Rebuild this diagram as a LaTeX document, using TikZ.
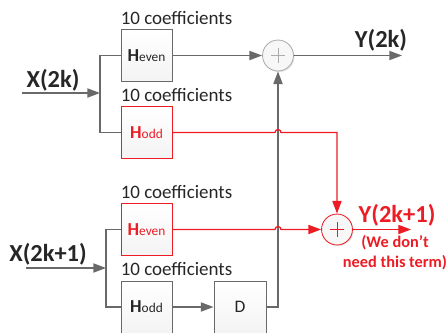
\documentclass[tikz,border=0pt]{standalone}
\usepackage{fontspec}
\setmainfont{Carlito}
\usetikzlibrary{positioning, calc, arrows.meta, shadows}
\definecolor{wiregray}{RGB}{105,105,105}
\definecolor{hotred}{RGB}{237,28,36}
\newcommand{\filtlabel}[1]{{\fontsize{13}{15}\selectfont\bfseries H}{\fontsize{9.5}{11}\selectfont #1}}
\tikzset{
    filt/.style={draw=wiregray, line width=0.7pt, top color=white, bottom color=gray!9,
        minimum width=1.275cm, minimum height=1.3cm, inner sep=0pt, text=black!85},
    filtred/.style={filt, draw=hotred, text=hotred},
    sumnode/.style={circle, draw=#1, line width=0.6pt, fill=gray!6, minimum size=22pt, inner sep=0pt,
        drop shadow={shadow xshift=0.8pt, shadow yshift=-0.8pt, opacity=0.2},
        path picture={\draw[#1, line width=0.5pt]
            (path picture bounding box.center) ++(-5pt,0) -- ++(10pt,0)
            (path picture bounding box.center) ++(0,-5pt) -- ++(0,10pt);}},
    wire/.style={draw=wiregray, line width=1pt},
    redwire/.style={draw=hotred, line width=0.9pt},
    coef/.style={inner sep=0pt, font=\fontsize{13.5}{15}\selectfont, text=black!85},
    bigbold/.style={inner sep=0pt, font=\fontsize{17.4}{20}\selectfont\bfseries, text=black!85},
    note/.style={inner sep=0pt, align=center, font=\fontsize{11.6}{14.2}\selectfont\bfseries, text=hotred}
}

\begin{document}
\begin{tikzpicture}[x=0.025cm, y=-0.025cm, >={Triangle[length=9pt,width=6.5pt]}]
        \useasboundingbox (0,0) rectangle (448,332);

        % ==========================================
        % UPPER PART: input X(2k)
        % ==========================================
        % 1. Filters and sum
        \node[filt] (heven1) at (146.5,55.5) {\filtlabel{even}};
        \node[filtred] (hodd1) at (146.5,132.5) {\filtlabel{odd}};
        \node[coef, above right=3pt and 0pt of heven1.north west] (coef1) {10 coefficients};
        \node[coef, above right=3pt and 0pt of hodd1.north west] (coef2) {10 coefficients};
        \node[sumnode=wiregray!55] (sum1) at (278,55.5) {};

        % 2. Input and split
        \node[bigbold] (xlab1) at (53,80) {X(2k)};
        \coordinate (xin1) at (22,93);
        \coordinate (split1) at (100,93);
        \draw[wire,->] (xin1) -- (split1);
        \draw[wire] (heven1.west) -| (split1) |- (hodd1.west);

        % 3. Output
        \draw[wire,->] (heven1) -- (sum1);
        \coordinate (yout1) at (402,55.5);
        \draw[wire,->] (sum1) -- (yout1);
        \node[bigbold] (ylab1) at (381,40) {Y(2k)};

        % ==========================================
        % LOWER PART: input X(2k+1)
        % ==========================================
        % 1. Filters, delay and sum
        \node[filtred] (heven2) at (146.5,229.5) {\filtlabel{even}};
        \node[filt] (hodd2) at (146.5,307) {\filtlabel{odd}};
        \node[coef, above right=3pt and 0pt of heven2.north west] (coef3) {10 coefficients};
        \node[coef, above right=3pt and 0pt of hodd2.north west] (coef4) {10 coefficients};
        \node[filt, minimum width=1.3cm, font=\fontsize{12.5}{15}\selectfont] (dbox) at (240,307) {D};
        \node[sumnode=hotred] (sum2) at (337,229.5) {};

        % 2. Input and split
        \node[bigbold] (xlab2) at (48,254) {X(2k+1)};
        \coordinate (xin2) at (26,268);
        \coordinate (split2) at (106,268);
        \draw[wire,->] (xin2) -- (split2);
        \draw[wire] (heven2.west) -| (split2) |- (hodd2.west);

        % 3. Delay path up to the first sum
        \draw[wire,->] (hodd2) -- (dbox);
        \draw[wire,->] (dbox.east) -| (sum1.south);

        % 4. Red paths (hop over the gray wire)
        \draw[redwire,->] (hodd1.east) -- ($(hodd1.east -| sum1)+(-3,0)$)
            arc[start angle=180, end angle=360, radius=3] -- (hodd1.east -| sum2) -- (sum2.north);
        \draw[redwire,->] (heven2.east) -- ($(heven2.east -| sum1)+(-3,0)$)
            arc[start angle=180, end angle=360, radius=3] -- (sum2.west);
        \coordinate (yout2) at (411,229.5);
        \draw[redwire,->] (sum2) -- (yout2);
        \node[bigbold, text=hotred] (ylab2) at (397,215) {Y(2k+1)};
        \node[note] (ylab2note) at (395,253) {(We don’t\\need this term)};

\end{tikzpicture}
\end{document}
